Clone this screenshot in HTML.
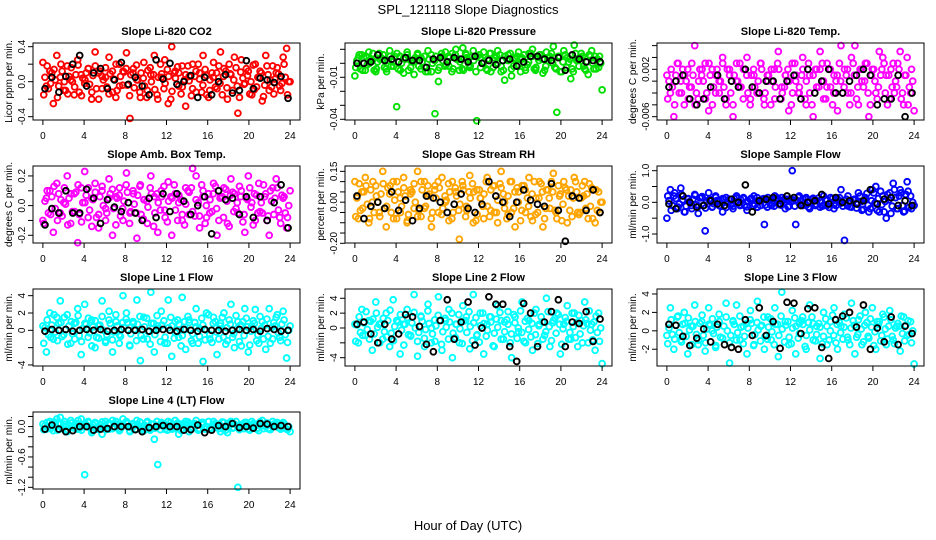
<!DOCTYPE html>
<html><head><meta charset="utf-8"><style>
html,body{margin:0;padding:0;background:#fff;}
svg{display:block;font-family:"Liberation Sans",sans-serif;}
</style></head><body>
<svg id="chart" width="936" height="540" viewBox="0 0 936 540" xmlns="http://www.w3.org/2000/svg">
<rect x="0" y="0" width="936" height="540" fill="#fff"/>
<text x="468" y="14" text-anchor="middle" font-size="13">SPL_121118  Slope Diagnostics</text>
<text x="468" y="530" text-anchor="middle" font-size="13">Hour of Day (UTC)</text>
</svg>
<script>
const xTicks = [0,4,8,12,16,20,24];

const co2Outer = [0.22,-0.05,0.12,-0.25,0.3,0.05,-0.1,0.18,0.02,-0.15,0.25,0.08,-0.02,0.15,-0.2,0.34,0.1,-0.08,0.05,0.28,-0.12,0.2,-0.05,0.12,0.33,-0.42,0.15,0.02,-0.18,0.22,-0.1,0.08,0.3,-0.2,0.05,0.25,-0.25,0.4,0.12,-0.05,0.18,-0.28,0.06,0.2,-0.12,0.1,0.3,-0.15,0.02,0.22,-0.08,0.34,0.15,-0.2,0.08,0.28,-0.36,0.25,-0.02,0.12,-0.15,0.2,0.05,-0.22,0.3,-0.1,0.18,0.1,-0.05,0.28,0.38,0.0];
const co2Core = [0.05,-0.08,0.1,0.02,-0.05,0.12,-0.1,0.06,0.0,0.08,-0.12,0.04,0.1,-0.03,0.07,-0.08,0.12,0.02,-0.06,0.09,0.03,-0.1,0.06,0.11,-0.04,0.08,-0.07,0.02,0.1,-0.05,0.13,0.0,-0.09,0.05,0.09,-0.02,0.06,-0.11,0.04,0.1,-0.06,0.08,0.01,-0.08,0.12,0.03,-0.04,0.07,-0.1,0.05,0.1,-0.02,0.06,-0.07,0.09,0.02,-0.05,0.11,-0.03,0.07,0.0,-0.09,0.05,0.1,-0.04,0.08,-0.06,0.03,0.09,-0.02,0.05,0.0];
const co2Mid = [-0.15,0.18,-0.02,0.14,-0.18,0.2,0.0,-0.14,0.16,-0.06,0.19,-0.16,0.02,0.15,-0.12,0.18,-0.2,0.06,0.16,-0.14,0.12,-0.18,0.2,-0.04,0.15,-0.16,0.1,0.19,-0.12,0.04,-0.18,0.16,0.08,-0.15,0.2,-0.08,0.14,-0.2,0.1,0.17,-0.14,0.02,0.18,-0.16,0.06,0.2,-0.12,0.14,-0.18,0.1,-0.06,0.18,-0.15,0.12,0.2,-0.1,0.16,-0.18,0.04,0.15,-0.14,0.19,-0.06,0.12,-0.17,0.18,0.02,-0.14,0.16,-0.1,0.2,-0.15];
const co2Black = [-0.08,0.05,-0.12,0.06,0.2,0.3,-0.05,0.1,0.15,-0.08,0.02,0.22,-0.03,0.05,-0.05,-0.15,0.25,0.03,0.21,-0.03,0.0,0.07,-0.18,0.05,-0.15,0.0,0.08,-0.13,-0.1,0.24,-0.08,0.04,0.02,-0.01,0.06,-0.19];
const co2Ticks = [0.4,0.2,0,-0.2,-0.4];
const co2Labels = ["0.4","","0.0","","-0.4"];

const presOuter = [-0.009,0.004,0.006,-0.005,0.008,0.002,-0.006,0.007,0.003,-0.004,0.009,0.001,-0.031,0.005,-0.007,0.008,0.002,-0.008,0.006,0.004,-0.003,0.009,-0.006,-0.036,-0.013,0.005,0.008,-0.002,0.007,0.01,-0.005,0.011,0.006,-0.003,0.009,-0.041,0.004,0.008,-0.005,0.007,0.002,0.009,-0.006,-0.012,0.006,-0.009,0.004,0.008,0.003,-0.005,0.007,0.01,-0.003,0.006,-0.007,0.008,0.005,0.012,-0.035,-0.006,0.009,0.004,-0.011,0.013,0.002,0.007,-0.004,-0.008,0.009,0.005,-0.003,-0.019];
const presCore = [0.002,-0.004,0.004,-0.001,0.003,-0.005,0.001,0.004,-0.003,0.002,-0.002,0.005,-0.004,0.0,0.003,-0.005,0.002,0.004,-0.002,0.001,-0.006,0.003,0.0,0.005,-0.003,0.002,-0.001,0.004,-0.004,0.003,0.001,-0.005,0.004,-0.002,0.002,0.005,-0.003,0.001,0.003,-0.006,0.004,0.0,-0.002,0.005,0.002,-0.004,0.003,-0.001,0.004,-0.003,0.001,0.005,-0.005,0.002,0.003,-0.002,0.004,0.0,-0.004,0.005,0.001,-0.003,0.003,-0.006,0.002,0.004,-0.002,0.001,0.005,-0.004,0.003,0.0];
const presMid = [-0.003,0.006,-0.005,0.005,0.0,0.007,-0.004,0.003,0.006,-0.006,0.005,-0.002,0.007,-0.005,0.004,0.006,-0.003,0.001,0.007,-0.004,0.005,-0.006,0.006,0.002,-0.005,0.007,-0.002,0.005,-0.006,0.006,0.003,-0.004,0.007,-0.001,0.005,-0.006,0.006,0.0,-0.004,0.007,-0.003,0.005,0.006,-0.005,0.003,0.007,-0.002,0.005,-0.006,0.006,-0.001,0.007,-0.004,0.004,0.006,-0.005,0.002,0.007,-0.003,0.005,-0.006,0.006,0.001,-0.004,0.007,-0.002,0.005,-0.005,0.006,0.0,-0.004,0.005];
const presBlack = [0.0,0.0,0.001,0.006,0.002,0.003,0.001,0.004,0.002,0.002,-0.003,0.003,0.004,0.001,0.004,0.003,0.001,0.005,0.0,0.002,-0.001,0.002,0.003,-0.002,0.001,0.005,0.005,0.003,0.002,0.004,-0.005,0.006,0.003,0.001,0.002,0.001];
const presTicks = [0.01,0,-0.01,-0.02,-0.03,-0.04];
const presLabels = ["","","-0.01","","","-0.04"];

const tempOuter = [0.001,-0.002,-0.006,0.003,0.0,-0.004,0.002,-0.001,0.006,-0.003,0.001,0.003,-0.005,0.002,-0.002,0.0,0.004,-0.004,0.001,-0.006,0.003,-0.001,0.002,0.004,-0.003,0.001,-0.002,0.003,-0.004,0.0,0.002,-0.003,0.005,-0.001,0.001,-0.005,0.003,0.0,-0.002,0.004,-0.004,0.001,-0.006,0.002,0.005,-0.003,0.003,-0.001,0.001,-0.005,0.006,0.002,-0.002,0.004,0.006,-0.004,0.0,0.003,-0.006,0.002,-0.002,0.005,0.004,0.001,-0.003,0.003,-0.001,0.005,-0.004,0.004,-0.002,-0.005];
const tempCore = [0.0,-0.001,0.001,-0.002,0.002,0.0,-0.001,0.001,-0.002,0.002,0.0,-0.002,0.001,-0.001,0.002,0.0,-0.001,0.002,-0.002,0.001,0.0,-0.001,0.002,-0.002,0.001,-0.001,0.0,0.002,-0.002,0.001,0.0,-0.001,0.002,-0.002,0.001,0.0,-0.002,0.001,-0.001,0.002,0.0,-0.002,0.001,-0.001,0.002,0.0,-0.001,0.002,-0.002,0.001,0.0,-0.001,0.002,-0.002,0.001,-0.001,0.002,0.0,-0.002,0.001,0.0,-0.001,0.002,-0.002,0.001,-0.001,0.0,0.002,-0.002,0.001,-0.001,0.0];
const tempMid = [-0.003,0.002,-0.004,0.003,-0.002,0.001,-0.003,0.003,-0.004,0.0,0.002,-0.003,0.003,-0.004,0.001,-0.002,0.003,-0.003,0.002,-0.004,0.0,0.003,-0.003,0.001,-0.004,0.002,-0.002,0.003,-0.003,0.001,-0.004,0.002,0.003,-0.003,-0.001,0.002,-0.004,0.003,-0.002,0.001,-0.003,0.003,-0.004,0.002,-0.001,0.003,-0.003,0.002,-0.004,0.0,0.003,-0.002,0.001,-0.004,0.003,-0.003,0.002,-0.001,0.003,-0.004,0.002,-0.003,0.001,0.003,-0.004,0.002,-0.002,0.003,-0.003,0.001,-0.004,0.002];
const tempBlack = [-0.001,0.0,0.001,-0.003,-0.004,-0.003,-0.001,0.001,-0.003,0.0,-0.001,0.002,-0.001,-0.002,0.0,0.0,-0.003,0.0,0.001,-0.003,0.002,-0.002,0.0,0.002,-0.002,-0.002,0.0,0.001,0.002,0.001,-0.004,-0.003,-0.003,0.001,-0.006,-0.002];
const tempTicks = [0.006,0.004,0.002,0,-0.002,-0.004,-0.006];
const tempLabels = ["","","0.002","","","","-0.006"];

const ambOuter = [-0.1,0.05,0.1,-0.18,0.15,-0.05,0.02,0.2,-0.12,0.08,-0.25,0.12,0.23,-0.08,0.05,0.15,-0.15,0.1,-0.02,0.18,-0.2,0.06,0.12,-0.1,0.22,-0.05,0.08,-0.22,0.14,0.04,-0.12,0.2,0.06,-0.18,0.1,-0.03,0.16,-0.2,0.08,0.02,-0.1,0.12,-0.06,0.25,0.2,-0.15,0.1,-0.08,0.04,0.15,-0.2,0.06,0.12,-0.12,0.18,0.08,-0.05,0.1,-0.18,0.2,0.02,-0.1,0.15,-0.05,0.08,-0.2,0.12,0.18,-0.08,0.05,-0.15,0.1];
const ambCore = [0.03,-0.05,0.06,-0.02,0.08,-0.07,0.01,0.05,-0.04,0.09,-0.06,0.02,0.07,-0.03,0.04,-0.08,0.06,0.0,-0.05,0.08,-0.02,0.05,-0.07,0.03,0.09,-0.04,0.01,0.07,-0.06,0.04,-0.01,0.08,-0.05,0.02,0.06,-0.08,0.03,0.05,-0.03,0.07,-0.06,0.01,0.09,-0.04,0.04,-0.07,0.06,0.0,-0.05,0.08,-0.02,0.05,-0.08,0.03,0.07,-0.04,0.02,0.06,-0.06,0.04,-0.01,0.08,-0.05,0.02,0.06,-0.07,0.03,0.05,-0.03,0.07,-0.05,0.0];
const ambMid = [-0.12,0.1,-0.06,0.13,-0.1,0.04,0.12,-0.13,0.08,-0.04,0.14,-0.11,0.02,0.12,-0.14,0.09,-0.06,0.13,-0.1,0.05,0.11,-0.13,0.07,-0.02,0.14,-0.12,0.1,-0.05,0.13,-0.09,0.03,0.12,-0.14,0.08,-0.03,0.13,-0.11,0.06,0.14,-0.1,0.04,-0.13,0.1,0.12,-0.07,0.02,0.14,-0.12,0.08,-0.04,0.13,-0.1,0.06,0.11,-0.14,0.09,-0.02,0.13,-0.11,0.05,0.12,-0.13,0.07,-0.04,0.14,-0.1,0.1,-0.06,0.12,-0.12,0.06,-0.08];
const ambBlack = [-0.13,-0.02,-0.05,0.1,-0.05,-0.05,0.11,0.05,-0.12,0.04,-0.01,-0.04,0.02,-0.05,-0.1,0.05,-0.08,0.08,-0.04,0.08,0.03,-0.06,0.0,0.06,-0.19,0.1,0.04,0.05,-0.06,0.06,-0.08,0.06,-0.1,0.02,0.14,-0.15];
const ambTicks = [0.2,0.1,0,-0.1,-0.2];
const ambLabels = ["0.2","","0.0","","-0.2"];

const rhOuter = [0.1,-0.08,0.05,0.12,-0.1,0.0,0.08,-0.05,0.15,-0.12,0.04,0.1,-0.08,0.02,0.12,-0.1,0.06,-0.03,0.15,-0.07,0.1,0.03,-0.12,0.08,-0.05,0.12,0.0,-0.09,0.1,0.05,-0.18,0.08,-0.02,0.13,-0.1,0.06,0.02,-0.08,0.12,-0.04,0.08,-0.1,0.15,0.0,-0.06,0.1,-0.12,0.05,0.08,-0.05,0.12,-0.09,0.02,0.1,-0.12,0.06,-0.03,0.14,-0.08,0.04,0.1,-0.1,0.06,0.12,-0.05,0.02,0.1,-0.08,0.07,-0.1,0.05,0.0];
const rhCore = [0.02,-0.04,0.05,-0.01,0.06,-0.05,0.0,0.04,-0.03,0.07,-0.05,0.01,0.05,-0.02,0.03,-0.06,0.05,0.0,-0.04,0.06,-0.02,0.04,-0.05,0.02,0.07,-0.03,0.01,0.05,-0.05,0.03,-0.01,0.06,-0.04,0.02,0.05,-0.06,0.02,0.04,-0.02,0.06,-0.05,0.01,0.07,-0.03,0.03,-0.05,0.05,0.0,-0.04,0.06,-0.02,0.04,-0.06,0.02,0.05,-0.03,0.02,0.05,-0.05,0.03,-0.01,0.06,-0.04,0.02,0.05,-0.05,0.03,0.04,-0.02,0.06,-0.04,0.0];
const rhMid = [-0.07,0.09,-0.03,0.08,-0.08,0.1,0.03,-0.07,0.09,-0.02,0.08,-0.08,0.1,-0.05,0.07,-0.09,0.04,0.09,-0.07,0.1,-0.03,0.08,-0.08,0.06,0.1,-0.06,0.03,0.09,-0.08,0.07,-0.04,0.1,-0.07,0.05,0.09,-0.09,0.06,-0.02,0.1,-0.07,0.08,-0.05,0.09,0.04,-0.08,0.1,-0.03,0.07,-0.09,0.08,0.02,-0.07,0.1,-0.05,0.09,-0.08,0.06,0.1,-0.04,0.08,-0.09,0.07,0.03,-0.07,0.1,-0.06,0.08,-0.03,0.09,-0.08,0.06,-0.05];
const rhBlack = [0.03,-0.08,-0.02,0.0,-0.03,0.05,-0.04,0.01,-0.09,-0.03,0.03,0.02,0.0,-0.05,-0.01,0.04,-0.03,-0.05,-0.01,0.1,0.03,0.0,-0.07,0.0,0.06,0.01,-0.01,-0.02,0.09,-0.04,-0.19,0.03,0.02,-0.04,0.06,-0.05];
const rhTicks = [0.15,0.1,0.05,0,-0.05,-0.1,-0.15,-0.2];
const rhLabels = ["0.15","","","0.00","","","","-0.20"];

const sampOuter = [-0.5,0.4,0.2,-0.2,0.45,-0.3,0.1,-0.1,0.25,-0.35,0.15,-0.9,0.3,-0.15,0.2,0.05,-0.3,0.15,0.1,-0.2,0.2,-0.1,0.15,-0.25,0.1,0.2,-0.15,0.05,-0.7,0.15,-0.1,0.2,-0.05,0.15,-0.2,0.1,1.0,-0.7,0.2,-0.1,0.15,-0.2,0.1,0.05,-0.15,0.2,-0.1,0.15,-0.2,0.1,0.4,-1.2,0.2,-0.15,0.1,0.3,-0.25,0.15,-0.3,0.4,0.5,-0.3,0.2,-0.5,0.3,0.6,-0.2,0.4,-0.3,0.65,0.2,-0.1];
const sampCore = [0.05,-0.1,0.12,-0.05,0.08,-0.12,0.02,0.1,-0.08,0.14,-0.1,0.03,0.09,-0.04,0.06,-0.12,0.1,0.0,-0.08,0.12,-0.03,0.07,-0.1,0.04,0.13,-0.06,0.02,0.1,-0.09,0.05,-0.02,0.12,-0.07,0.03,0.09,-0.12,0.04,0.08,-0.05,0.11,-0.09,0.02,0.13,-0.06,0.05,-0.1,0.09,0.0,-0.07,0.12,-0.03,0.06,-0.11,0.04,0.1,-0.06,0.03,0.09,-0.09,0.05,-0.02,0.12,-0.07,0.03,0.08,-0.12,0.15,0.2,-0.1,0.25,-0.15,0.0];
const sampMid = [0.2,-0.25,0.3,-0.15,0.25,-0.3,0.12,-0.2,0.22,-0.12,0.18,-0.18,0.08,-0.14,0.16,-0.1,0.12,-0.16,0.1,-0.12,0.14,-0.08,0.12,-0.14,0.09,-0.11,0.15,-0.1,0.12,-0.15,0.08,-0.12,0.14,-0.09,0.11,-0.14,0.1,-0.12,0.16,-0.08,0.12,-0.15,0.09,-0.1,0.14,-0.12,0.08,-0.16,0.12,-0.1,0.15,-0.12,0.1,-0.14,0.08,-0.18,0.2,-0.22,0.28,-0.2,0.3,-0.25,0.35,-0.3,0.25,-0.35,0.4,-0.2,0.3,-0.28,0.35,-0.2];
const sampBlack = [-0.05,-0.2,0.2,0.0,-0.15,-0.1,0.05,-0.05,-0.1,0.1,0.0,0.55,-0.3,0.05,0.1,0.15,-0.05,0.2,0.15,-0.1,0.0,0.05,0.25,-0.05,0.15,0.0,0.05,-0.05,0.05,0.4,-0.05,0.1,0.15,-0.1,0.05,-0.1];
const sampTicks = [1,0.5,0,-0.5,-1];
const sampLabels = ["1.0","","0.0","","-1.0"];

const l1Outer = [0.5,-2.5,2.0,-1.0,1.5,3.4,-0.5,1.8,-1.5,0.8,2.5,-2.8,3.0,-0.8,1.2,-2.0,0.5,3.4,-1.2,2.2,-2.5,1.0,-0.5,4.0,2.0,-1.8,0.8,3.5,-3.5,1.5,-1.0,4.4,-2.5,0.5,2.2,-1.5,3.5,-3.0,1.0,-0.8,3.8,-2.2,1.2,-1.5,2.5,0.2,-3.6,2.0,-1.0,1.5,-2.8,0.8,2.0,-1.2,3.0,-2.0,1.0,-1.8,2.5,-2.5,0.5,2.4,-1.5,1.0,-2.2,2.5,-1.0,1.5,-0.8,2.2,-3.2,0.5];
const l1Core = [0.3,-0.5,0.6,-0.2,0.8,-0.7,0.1,0.5,-0.4,0.9,-0.6,0.2,0.7,-0.3,0.4,-0.8,0.6,0.0,-0.5,0.8,-0.2,0.5,-0.7,0.3,0.9,-0.4,0.1,0.7,-0.6,0.4,-0.1,0.8,-0.5,0.2,0.6,-0.8,0.3,0.5,-0.3,0.7,-0.6,0.1,0.9,-0.4,0.4,-0.7,0.6,0.0,-0.5,0.8,-0.2,0.5,-0.8,0.3,0.7,-0.4,0.2,0.6,-0.6,0.4,-0.1,0.8,-0.5,0.2,0.6,-0.7,0.3,0.5,-0.3,0.7,-0.5,0.0];
const l1Mid = [-1.5,1.2,-0.8,1.8,-1.2,0.9,1.5,-1.6,1.0,-1.0,1.7,-1.3,0.8,1.4,-1.8,1.1,-0.9,1.6,-1.4,1.2,-1.1,1.8,-1.5,0.9,1.3,-1.7,1.0,-1.2,1.6,-1.0,1.4,-1.6,0.8,1.7,-1.3,1.1,-1.5,1.5,-0.9,1.2,-1.8,1.0,1.6,-1.2,0.9,-1.5,1.4,-1.1,1.8,-1.4,1.0,-1.0,1.5,-1.6,1.2,-0.8,1.7,-1.3,1.0,1.4,-1.7,1.1,-1.2,1.6,-1.0,1.3,-1.5,0.9,1.8,-1.2,1.2,-1.4];
const l1Black = [-0.1,0.1,0.0,0.1,-0.1,0.0,0.1,0.0,0.1,-0.1,0.0,0.1,0.0,0.0,0.1,-0.1,0.0,0.1,0.0,-0.1,0.1,0.0,-0.1,0.1,0.0,0.0,-0.1,0.0,0.1,0.0,0.1,-0.1,0.2,0.1,-0.1,0.0];
const l1Ticks = [4,2,0,-2,-4];
const l1Labels = ["4","2","0","","-4"];

const l2Outer = [0.5,-2.0,2.5,-1.0,1.0,-3.0,3.5,0.5,-1.5,2.0,-2.5,3.8,1.0,-3.5,0.5,2.5,-1.0,4.5,-3.8,1.5,-2.5,3.2,0.0,-1.8,4.2,-3.0,1.0,2.5,-4.0,0.5,-2.0,3.0,1.5,-2.8,4.5,-1.0,2.0,-3.5,0.5,1.5,-2.5,3.0,-1.5,0.8,2.2,-4.0,1.5,-0.5,3.5,-2.0,1.0,-3.0,2.5,0.5,-1.5,4.0,-2.5,1.0,2.0,-3.5,0.5,3.0,-1.5,2.0,-2.5,1.0,3.5,-2.0,0.5,-3.0,2.0,-4.8];
const l2Core = [0.4,-0.6,0.7,-0.2,0.9,-0.8,0.1,0.6,-0.5,1.0,-0.7,0.2,0.8,-0.3,0.5,-0.9,0.7,0.0,-0.6,0.9,-0.2,0.6,-0.8,0.3,1.0,-0.5,0.1,0.8,-0.7,0.5,-0.1,0.9,-0.6,0.2,0.7,-0.9,0.3,0.6,-0.3,0.8,-0.7,0.1,1.0,-0.5,0.5,-0.8,0.7,0.0,-0.6,0.9,-0.2,0.6,-0.9,0.3,0.8,-0.5,0.2,0.7,-0.7,0.5,-0.1,0.9,-0.6,0.2,0.7,-0.8,0.3,0.6,-0.3,0.8,-0.6,0.0];
const l2Mid = [-1.8,1.5,-1.0,2.2,-1.5,1.2,2.0,-2.0,1.3,-1.2,2.4,-1.7,1.0,1.8,-2.3,1.4,-1.1,2.1,-1.8,1.6,-1.4,2.3,-2.0,1.1,1.7,-2.2,1.3,-1.5,2.0,-1.3,1.8,-2.1,1.0,2.2,-1.7,1.4,-1.9,2.0,-1.1,1.5,-2.4,1.2,2.1,-1.5,1.1,-2.0,1.8,-1.4,2.3,-1.8,1.3,-1.2,2.0,-2.1,1.5,-1.0,2.2,-1.7,1.3,1.8,-2.2,1.4,-1.5,2.0,-1.3,1.7,-2.0,1.1,2.3,-1.6,1.6,-1.8];
const l2Black = [0.5,0.8,-0.8,-2.0,0.5,-1.5,-0.8,1.8,1.5,0.2,-2.2,-3.2,1.0,3.8,-1.5,0.8,3.5,-2.3,0.0,4.2,3.2,3.2,-2.5,-4.5,3.3,2.0,-2.5,0.8,2.2,3.8,-2.5,0.8,0.6,2.2,-1.8,1.2];
const l2Ticks = [4,2,0,-2,-4];
const l2Labels = ["4","2","0","","-4"];

const l3Outer = [-0.5,2.5,-2.0,1.5,-1.0,2.0,-2.5,0.5,2.8,-1.5,1.0,-2.2,2.5,0.0,-1.8,1.8,-0.8,3.0,-3.5,1.0,2.8,-1.0,0.5,-2.5,2.2,-1.5,3.2,0.5,-2.0,1.5,-1.0,2.5,-2.8,4.2,1.0,-1.5,2.2,-2.5,0.8,1.5,-2.0,2.8,-1.0,0.5,-3.0,2.0,-1.5,1.0,2.5,-2.0,0.5,1.8,-1.0,3.0,-2.5,1.2,-1.5,2.0,-0.8,2.5,-2.0,1.0,1.8,-1.5,2.2,-1.0,0.5,-2.2,1.5,-0.5,1.0,-3.6];
const l3Core = [0.3,-0.4,0.6,-0.2,0.7,-0.6,0.1,0.5,-0.4,0.8,-0.5,0.2,0.6,-0.3,0.4,-0.7,0.5,0.0,-0.5,0.7,-0.2,0.4,-0.6,0.3,0.8,-0.4,0.1,0.6,-0.6,0.4,-0.1,0.7,-0.5,0.2,0.6,-0.7,0.3,0.5,-0.3,0.7,-0.5,0.1,0.8,-0.4,0.4,-0.6,0.5,0.0,-0.5,0.7,-0.2,0.4,-0.7,0.3,0.6,-0.4,0.2,0.6,-0.6,0.4,-0.1,0.7,-0.5,0.2,0.5,-0.6,0.3,0.5,-0.3,0.6,-0.4,0.0];
const l3Mid = [-1.4,1.2,-0.9,1.6,-1.2,0.8,1.4,-1.5,1.0,-1.0,1.7,-1.3,0.7,1.3,-1.6,1.0,-0.8,1.5,-1.3,1.1,-1.0,1.6,-1.4,0.8,1.2,-1.6,0.9,-1.1,1.5,-0.9,1.3,-1.5,0.7,1.6,-1.2,1.0,-1.4,1.4,-0.8,1.1,-1.7,0.9,1.5,-1.1,0.8,-1.4,1.3,-1.0,1.7,-1.3,0.9,-0.9,1.4,-1.5,1.1,-0.7,1.6,-1.2,0.9,1.3,-1.6,1.0,-1.1,1.5,-0.9,1.2,-1.4,0.8,1.6,-1.1,1.1,-1.3];
const l3Black = [0.7,0.6,-0.6,-1.6,-0.8,0.2,-1.2,0.7,-1.5,-1.8,-2.0,1.2,-0.5,2.5,-0.5,1.0,-1.9,3.1,3.0,-0.3,2.4,2.5,-1.8,-3.0,1.2,1.6,2.0,0.4,2.8,-2.0,0.3,-1.2,1.5,-1.5,0.5,-0.3];
const l3Ticks = [4,2,0,-2];
const l3Labels = ["4","2","0","-2"];

const l4Outer = [0.05,-0.05,0.1,-0.08,0.15,0.18,0.05,-0.1,0.12,0.0,-0.05,0.15,-0.95,0.1,-0.12,0.08,0.0,-0.15,0.1,-0.05,0.12,0.05,-0.08,0.15,0.1,-0.1,0.05,0.12,0.0,-0.08,0.1,-0.05,-0.25,-0.75,0.08,0.0,0.1,-0.05,0.12,-0.15,0.05,0.1,-0.1,0.05,0.12,-0.05,0.08,0.0,-0.05,0.1,0.05,-0.1,0.08,-0.12,0.1,0.05,-1.2,0.0,0.08,-0.05,0.1,0.05,-0.08,0.12,0.0,-0.05,0.1,0.05,-0.03,0.08,-0.05,-0.1];
const l4Core = [0.02,-0.03,0.04,-0.01,0.05,-0.04,0.0,0.03,-0.02,0.06,-0.04,0.01,0.04,-0.02,0.03,-0.05,0.04,0.0,-0.03,0.05,-0.01,0.03,-0.04,0.02,0.06,-0.02,0.01,0.04,-0.04,0.03,-0.01,0.05,-0.03,0.01,0.04,-0.05,0.02,0.03,-0.02,0.05,-0.04,0.01,0.06,-0.02,0.03,-0.04,0.04,0.0,-0.03,0.05,-0.01,0.03,-0.05,0.02,0.04,-0.02,0.01,0.04,-0.04,0.03,-0.01,0.05,-0.03,0.01,0.04,-0.04,0.02,0.03,-0.02,0.04,-0.03,0.0];
const l4Mid = [-0.06,0.08,-0.04,0.09,-0.07,0.06,0.1,-0.06,0.07,-0.03,0.12,-0.07,0.05,0.08,-0.08,0.06,-0.05,0.09,-0.06,0.07,-0.04,0.1,-0.07,0.05,0.08,-0.08,0.06,-0.05,0.09,-0.04,0.08,-0.07,0.05,0.1,-0.06,0.06,-0.07,0.08,-0.04,0.07,-0.08,0.05,0.09,-0.05,0.06,-0.07,0.08,-0.05,0.1,-0.06,0.06,-0.04,0.09,-0.07,0.07,-0.03,0.1,-0.06,0.05,0.08,-0.07,0.06,-0.05,0.09,-0.04,0.07,-0.06,0.05,0.08,-0.05,0.06,-0.06];
const l4Black = [-0.05,0.03,-0.05,-0.1,-0.08,0.0,0.0,-0.07,-0.05,-0.04,0.0,0.0,0.0,-0.06,-0.1,-0.02,0.0,0.02,0.0,0.0,-0.07,-0.06,0.03,-0.12,-0.07,0.02,0.0,0.06,-0.02,0.0,-0.03,0.06,0.05,0.0,0.02,0.0];
const l4Ticks = [0.2,0,-0.2,-0.4,-0.6,-0.8,-1.0,-1.2];
const l4Labels = ["","0.0","","","-0.6","","","-1.2"];

const panels = [
 {name:"co2",title:"Slope Li-820 CO2",ylab:"Licor ppm per min.",col:0,row:0,ymin:-0.438,ymax:0.442,color:"#ff0000",outer:co2Outer,mid:co2Mid,core:co2Core,black:co2Black,ticks:co2Ticks,labels:co2Labels},
 {name:"pressure",title:"Slope Li-820 Pressure",ylab:"kPa per min.",col:1,row:0,ymin:-0.0405,ymax:0.0145,color:"#00e000",outer:presOuter,mid:presMid,core:presCore,black:presBlack,ticks:presTicks,labels:presLabels},
 {name:"temp",title:"Slope Li-820 Temp.",ylab:"degrees C per min.",col:2,row:0,ymin:-0.00656,ymax:0.00644,color:"#ff00ff",outer:tempOuter,mid:tempMid,core:tempCore,black:tempBlack,ticks:tempTicks,labels:tempLabels},
 {name:"amb-box-temp",title:"Slope Amb. Box Temp.",ylab:"degrees C per min.",col:0,row:1,ymin:-0.252,ymax:0.267,color:"#ff00ff",outer:ambOuter,mid:ambMid,core:ambCore,black:ambBlack,ticks:ambTicks,labels:ambLabels},
 {name:"gas-rh",title:"Slope Gas Stream RH",ylab:"percent per min.",col:1,row:1,ymin:-0.1985,ymax:0.176,color:"#ffa500",outer:rhOuter,mid:rhMid,core:rhCore,black:rhBlack,ticks:rhTicks,labels:rhLabels},
 {name:"sample-flow",title:"Slope Sample Flow",ylab:"ml/min per min.",col:2,row:1,ymin:-1.284,ymax:1.148,color:"#0000ff",outer:sampOuter,mid:sampMid,core:sampCore,black:sampBlack,ticks:sampTicks,labels:sampLabels},
 {name:"line1-flow",title:"Slope Line 1 Flow",ylab:"ml/min per min.",col:0,row:2,ymin:-4.12,ymax:4.77,color:"#00ffff",outer:l1Outer,mid:l1Mid,core:l1Core,black:l1Black,ticks:l1Ticks,labels:l1Labels},
 {name:"line2-flow",title:"Slope Line 2 Flow",ylab:"ml/min per min.",col:1,row:2,ymin:-5.12,ymax:5.25,color:"#00ffff",outer:l2Outer,mid:l2Mid,core:l2Core,black:l2Black,ticks:l2Ticks,labels:l2Labels},
 {name:"line3-flow",title:"Slope Line 3 Flow",ylab:"ml/min per min.",col:2,row:2,ymin:-3.82,ymax:4.54,color:"#00ffff",outer:l3Outer,mid:l3Mid,core:l3Core,black:l3Black,ticks:l3Ticks,labels:l3Labels},
 {name:"line4-flow",title:"Slope Line 4 (LT) Flow",ylab:"ml/min per min.",col:0,row:3,ymin:-1.233,ymax:0.288,color:"#00ffff",outer:l4Outer,mid:l4Mid,core:l4Core,black:l4Black,ticks:l4Ticks,labels:l4Labels}
];

const NS = "http://www.w3.org/2000/svg";
const svg = document.getElementById('chart');
function mk(tag, attrs, parent){
  const e = document.createElementNS(NS, tag);
  for (const k in attrs) e.setAttribute(k, attrs[k]);
  parent.appendChild(e);
  return e;
}
panels.forEach(p => {
  const L = 33 + p.col*312, R = L + 267, T = 43 + p.row*123, B = T + 77;
  const xS = h => L + (h + 0.96) / 25.92 * 267;
  const yS = v => B - (v - p.ymin) / (p.ymax - p.ymin) * 77;
  const g = mk('g', {}, svg);
  
  
  const t = mk('text', {x:(L+R)/2, y:T-8, 'text-anchor':'middle', 'font-size':11, 'font-weight':'bold'}, g);
  t.textContent = p.title;
  
  
  const yl = mk('text', {x:0, y:0, 'text-anchor':'middle', 'font-size':10, transform:`translate(${L-21},${(T+B)/2}) rotate(-90)`}, g);
  yl.textContent = p.ylab;
  
  
  const pts = mk('g', {fill:'none', 'stroke-width':1.9}, g);
  
  
  const n1 = p.outer.length, n2 = p.core.length, n4 = p.mid.length, n3 = p.black.length;
  p.outer.forEach((v,i) => {
    const c = mk('circle', {cx:xS(i*24/(n1-1)), cy:yS(v), r:2.9, stroke:p.color}, pts);
    
    
  });
  p.mid.forEach((v,i) => {
    const c = mk('circle', {cx:xS((i+0.25)*24/n4), cy:yS(v), r:2.9, stroke:p.color}, pts);
    
    
  });
  p.core.forEach((v,i) => {
    const c = mk('circle', {cx:xS((i+0.6)*24/n2), cy:yS(v), r:2.9, stroke:p.color}, pts);
    
    
  });
  p.black.forEach((v,i) => {
    const c = mk('circle', {cx:xS((i+0.3)*24/(n3-0.4)), cy:yS(v), r:2.9, stroke:'#000'}, pts);
    
    
  });
  const box = mk('rect', {x:L, y:T, width:R-L, height:B-T, fill:'none', stroke:'#000', 'stroke-width':1}, g);
  
  
  xTicks.forEach(h => {
    mk('line', {x1:xS(h), x2:xS(h), y1:B, y2:B+5, stroke:'#000'}, g);
    const tl = mk('text', {x:xS(h), y:B+19, 'text-anchor':'middle', 'font-size':10}, g);
    tl.textContent = h;
    
    
  });
  p.ticks.forEach((v,i) => {
    const y = yS(v);
    mk('line', {x1:L-5, x2:L, y1:y, y2:y, stroke:'#000'}, g);
    if (p.labels[i]) {
      const tl = mk('text', {x:0, y:0, 'text-anchor':'middle', 'font-size':10, transform:`translate(${L-8},${y}) rotate(-90)`}, g);
      tl.textContent = p.labels[i];
      
      
    }
  });
});
</script>
</body></html>
